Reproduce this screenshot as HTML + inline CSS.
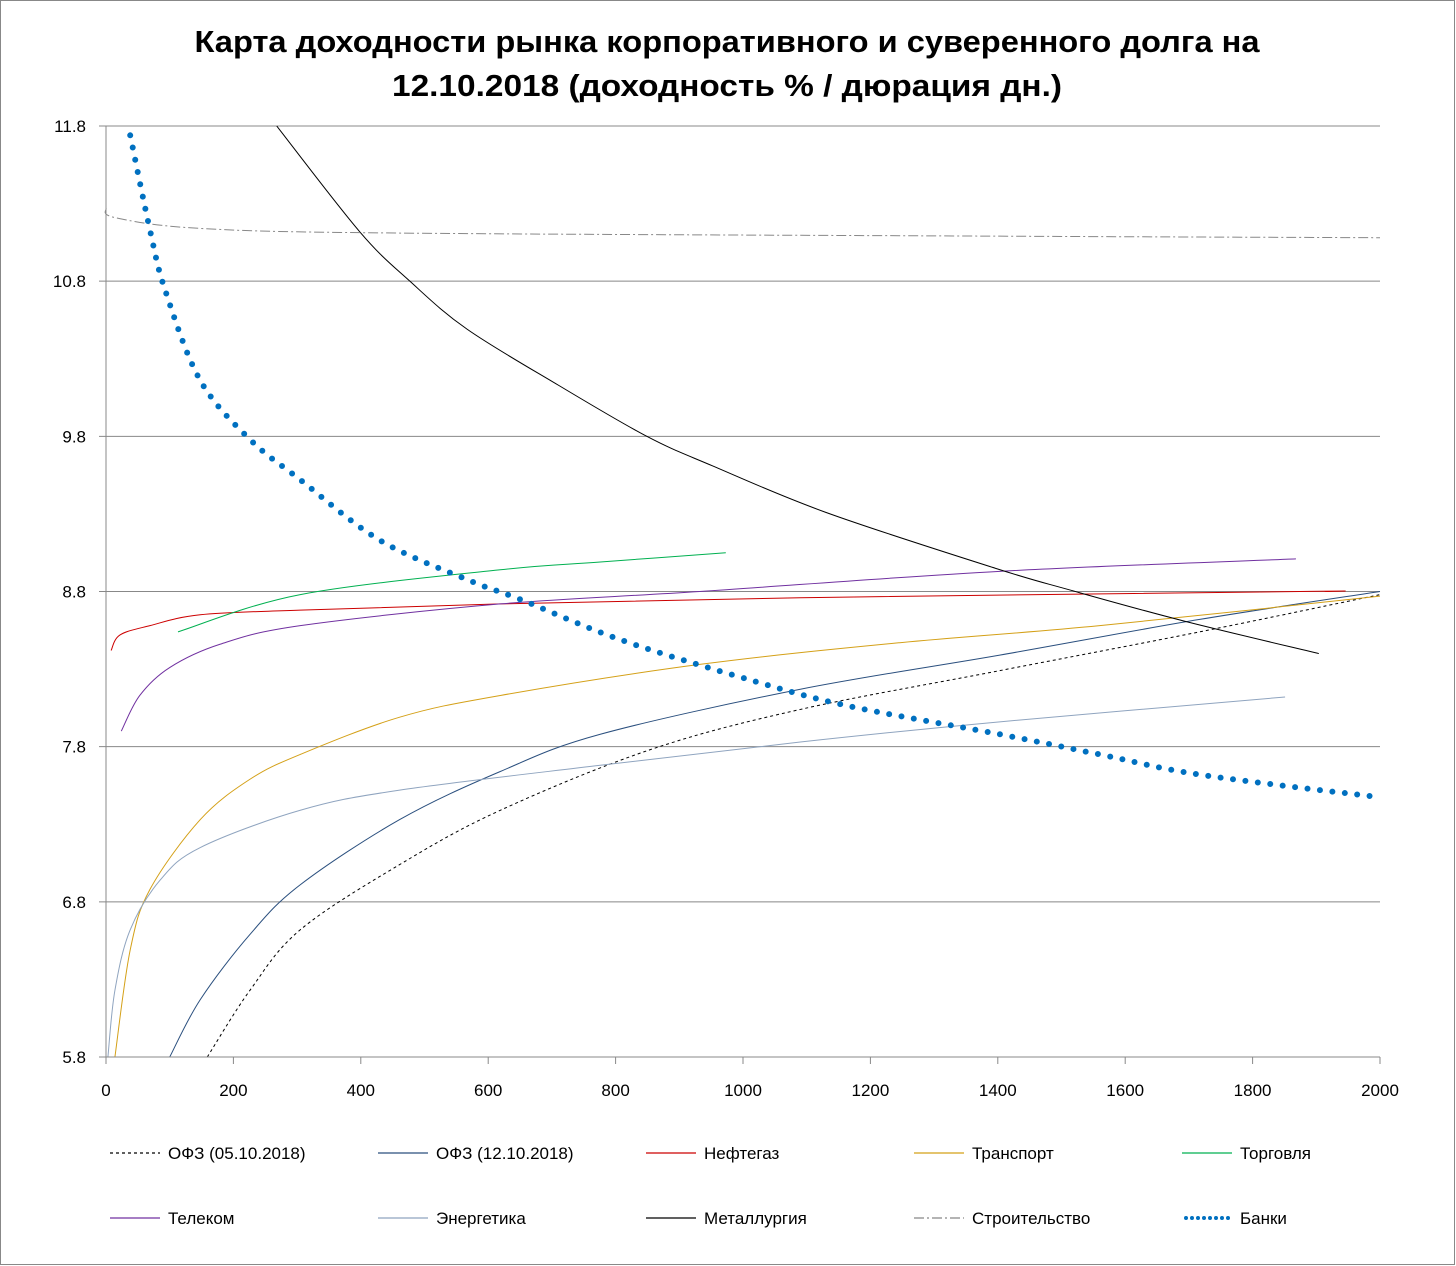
<!DOCTYPE html>
<html><head><meta charset="utf-8"><style>
html,body{margin:0;padding:0;background:#fff}
svg{display:block;font-family:"Liberation Sans",sans-serif}
</style></head><body>
<svg id="chart" width="1456" height="1266" viewBox="0 0 1456 1266">
<rect x="0.5" y="0.5" width="1454" height="1264" fill="#fff" stroke="#888"/>
<text x="727" y="52" text-anchor="middle" font-size="31" font-weight="bold" textLength="1065" lengthAdjust="spacingAndGlyphs">Карта доходности рынка корпоративного и суверенного долга на</text>
<text x="727" y="96" text-anchor="middle" font-size="31" font-weight="bold" textLength="670" lengthAdjust="spacingAndGlyphs">12.10.2018 (доходность % / дюрация дн.)</text>
<g id="grid"></g><g id="series"></g><g id="axes"></g><g id="legend"></g>
</svg>
<script>
const xTicks=[0,200,400,600,800,1000,1200,1400,1600,1800,2000];
const yTicks=[5.8,6.8,7.8,8.8,9.8,10.8,11.8];
const names=["ОФЗ (05.10.2018)","ОФЗ (12.10.2018)","Нефтегаз","Транспорт","Торговля","Телеком","Энергетика","Металлургия","Строительство","Банки"];
const ofz0510X=[159,226,305,461,619,854,1090,1403,1717,2000];
const ofz0510Y=[5.8,6.23,6.62,7.04,7.39,7.78,8.04,8.29,8.54,8.78];
const ofz1210X=[100,148,226,305,461,619,776,1090,1403,1717,2000];
const ofz1210Y=[5.8,6.17,6.59,6.91,7.33,7.64,7.88,8.17,8.39,8.62,8.8];
const oilX=[8,22,69,148,305,619,1090,1874,1914];
const oilY=[8.42,8.52,8.58,8.65,8.68,8.72,8.76,8.8,8.8];
const transX=[14,38,69,148,226,305,461,619,932,1246,1560,2000];
const transY=[5.8,6.49,6.88,7.33,7.59,7.75,7.99,8.13,8.33,8.47,8.58,8.77];
const tradeX=[113,305,619,776,973];
const tradeY=[8.54,8.78,8.94,8.99,9.05];
const telX=[24,53,100,179,305,619,932,1403,1868];
const telY=[7.9,8.13,8.31,8.46,8.58,8.72,8.8,8.93,9.01];
const enerX=[3,14,38,85,148,305,461,776,1090,1403,1851];
const enerY=[5.8,6.23,6.62,6.94,7.15,7.39,7.52,7.68,7.83,7.96,8.12];
const metX=[268,398,477,567,710,849,952,1130,1396,1513,1692,1904];
const metY=[11.8,11.12,10.8,10.49,10.13,9.8,9.61,9.31,8.95,8.81,8.61,8.4];
const consX=[0,14,148,461,1403,2000];
const consY=[11.27,11.21,11.14,11.11,11.09,11.08];
const bankX=[38,69,93,148,226,305,430,571,650,807,1011,1168,1403,1560,1717,1987];
const bankY=[11.74,11.13,10.74,10.16,9.78,9.52,9.13,8.87,8.75,8.49,8.23,8.06,7.88,7.75,7.62,7.48];

const X0=106,X1=1380,Y0=1057,Y1=126;
const sx=v=>X0+(v-0)/2000*(X1-X0);
const sy=v=>Y0-(v-5.8)/6*(Y0-Y1);
const NS="http://www.w3.org/2000/svg";
function mk(t,a,p){const e=document.createElementNS(NS,t);for(const k in a)e.setAttribute(k,a[k]);p.appendChild(e);return e;}
const grid=document.getElementById('grid'),axes=document.getElementById('axes'),ser=document.getElementById('series'),leg=document.getElementById('legend');
yTicks.forEach(t=>{
  const l=mk('line',{x1:X0-7,x2:X1,y1:sy(t),y2:sy(t),stroke:'#888','stroke-width':1},grid);
  
  
  const tx=mk('text',{x:86,y:sy(t)+6,'text-anchor':'end','font-size':17},axes);
  tx.textContent=t.toFixed(1);
  
  
});
xTicks.forEach(t=>{
  const l=mk('line',{x1:sx(t),x2:sx(t),y1:Y0,y2:Y0+7,stroke:'#888'},axes);
  
  
  const tx=mk('text',{x:sx(t),y:1096,'text-anchor':'middle','font-size':17},axes);
  tx.textContent=t;
  
  
});
const ya=mk('line',{x1:X0,x2:X0,y1:Y1,y2:Y0,stroke:'#888'},axes);


const xa=mk('line',{x1:X0,x2:X1,y1:Y0,y2:Y0,stroke:'#888'},axes);



function pathD(xs,ys){
  const p=xs.map((x,i)=>[sx(x),sy(ys[i])]);
  let d='M'+p[0][0]+','+p[0][1];
  for(let i=0;i<p.length-1;i++){
    const p0=p[i-1]||p[i],p1=p[i],p2=p[i+1],p3=p[i+2]||p2;
    const c1=[p1[0]+(p2[0]-p0[0])/6,p1[1]+(p2[1]-p0[1])/6];
    const c2=[p2[0]-(p3[0]-p1[0])/6,p2[1]-(p3[1]-p1[1])/6];
    d+=' C'+c1+' '+c2+' '+p2;
  }
  return d;
}
const styles=[
 {xs:ofz0510X,ys:ofz0510Y,c:'#000',w:1,da:'3 3',n:'series-ofz-0510'},
 {xs:ofz1210X,ys:ofz1210Y,c:'#2a4f7e',w:1,da:'',n:'series-ofz-1210'},
 {xs:oilX,ys:oilY,c:'#cc0000',w:1,da:'',n:'series-oil-gas'},
 {xs:transX,ys:transY,c:'#d4a017',w:1,da:'',n:'series-transport'},
 {xs:tradeX,ys:tradeY,c:'#00b050',w:1,da:'',n:'series-trade'},
 {xs:telX,ys:telY,c:'#7030a0',w:1,da:'',n:'series-telecom'},
 {xs:enerX,ys:enerY,c:'#8fa4bf',w:1,da:'',n:'series-energy'},
 {xs:metX,ys:metY,c:'#000',w:1,da:'',n:'series-metallurgy'},
 {xs:consX,ys:consY,c:'#888',w:1,da:'10 3 2 3',n:'series-construction'},
 {xs:bankX,ys:bankY,c:'#0070c0',w:6,da:'0 12.5',n:'series-banks'}
];
styles.forEach(s=>{
  const a={d:pathD(s.xs,s.ys),fill:'none',stroke:s.c,'stroke-width':s.w};
  if(s.da)a['stroke-dasharray']=s.da;
  if(s.w>2)a['stroke-linecap']='round';
  const e=mk('path',a,ser);
  
  
});
const colX=[110,378,646,914,1182],rowY=[1153,1218];
styles.forEach((s,i)=>{
  const x=colX[i%5],y=rowY[Math.floor(i/5)];
  const g=mk('g',{},leg);
  
  
  const a={x1:x,x2:x+50,y1:y,y2:y,stroke:s.c,'stroke-width':s.w>2?4:1.3};
  if(s.da)a['stroke-dasharray']=s.w>2?'0 6':s.da;
  if(s.w>2){a['stroke-linecap']='round';a.x1=x+4;a.x2=x+48;}
  mk('line',a,g);
  const t=mk('text',{x:x+58,y:y+6,'font-size':17},g);
  t.textContent=names[i];
});
</script>
</body></html>
